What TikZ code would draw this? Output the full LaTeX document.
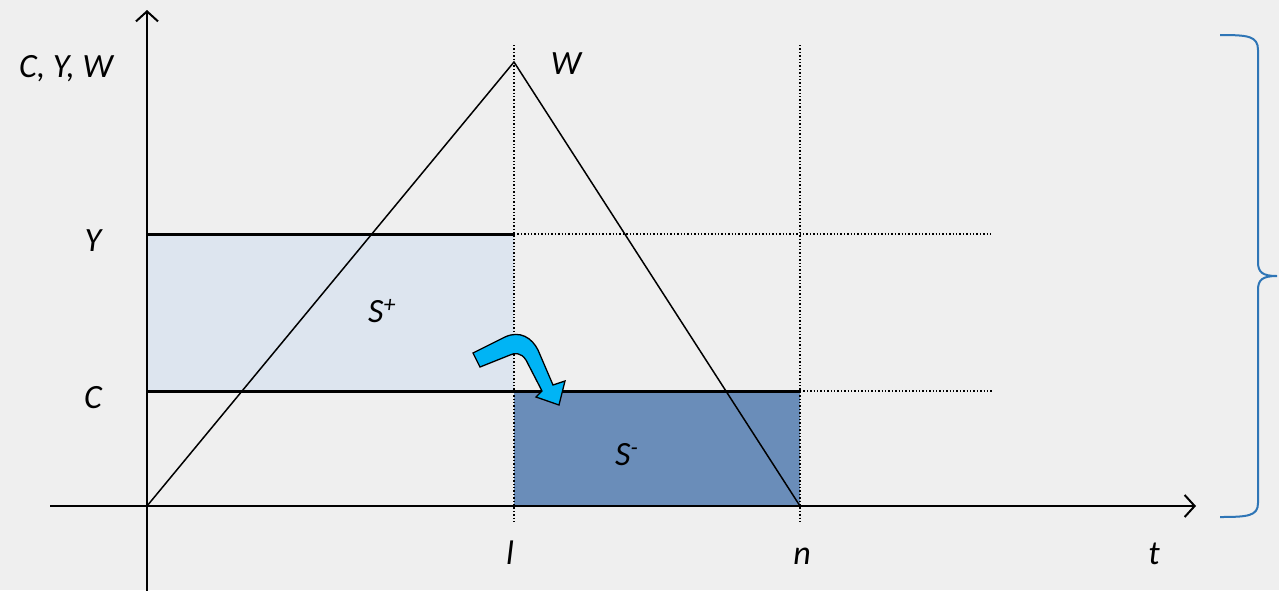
\documentclass[tikz,border=0pt]{standalone}
\usepackage{fontspec}
\setmainfont{Carlito}
\usetikzlibrary{arrows.meta}
\definecolor{colBack}{RGB}{239,239,239}
\definecolor{colSurplus}{RGB}{221,229,239}
\definecolor{colDeficit}{RGB}{106,141,185}
\definecolor{colShift}{RGB}{0,180,245}
\definecolor{colBrace}{RGB}{46,117,182}

\begin{document}
\begin{tikzpicture}[x=1pt, y=-1pt,
    every node/.style={font=\fontsize{34}{40}\selectfont\itshape, inner sep=0pt},
    axis/.style={line width=2pt, -{Straight Barb[length=10pt,width=22pt,line width=2pt]}},
    guide/.style={line width=1.4pt, dotted},
    level/.style={line width=3pt}]
    \useasboundingbox (0,0) rectangle (1279,590);
    \fill[colBack] (0,0) rectangle (1279,590);

    % key points
    \coordinate (O) at (147,506);
    \coordinate (peak) at (514,62);
    \coordinate (end) at (800,506);
    \coordinate (Yl) at (147,234);
    \coordinate (Yr) at (514,234);
    \coordinate (Cl) at (147,391);
    \coordinate (Cr) at (800,391);

    % areas
    \fill[colSurplus] (Yl) rectangle (514,391);
    \fill[colDeficit] (514,391) rectangle (end);

    % guides
    \draw[guide] (514,45) -- (514,522);
    \draw[guide] (800,45) -- (800,522);
    \draw[guide] (Yr) -- (992,234);
    \draw[guide] (Cr) -- (992,391);

    % levels
    \draw[level] (Yl) -- (Yr);
    \draw[level] (Cl) -- (Cr);

    % wealth
    \draw[line width=1.5pt] (O) -- (peak) -- (end);

    % axes
    \draw[axis] (147,592) -- (147,10);
    \draw[axis] (50,506) -- (1196,506);

    % transfer
    \draw[line width=1.3pt, fill=colShift] (473,353) -- (505,337)
        .. controls (520,330) and (532,338) .. (538,350) -- (553,385)
        -- (565,381) -- (559,405) -- (536,397) -- (542,391) -- (526,360)
        .. controls (521,352) and (514,353) .. (510,355) -- (480,367) -- cycle;

    % brace
    \draw[colBrace, line width=2pt] (1220,35)
        .. controls (1248,35) and (1258,36) .. (1258,50) -- (1258,262)
        .. controls (1258,272) and (1262,276) .. (1277,276)
        .. controls (1262,276) and (1258,280) .. (1258,290) -- (1258,503)
        .. controls (1258,516) and (1248,517) .. (1220,517);

    % labels
    \node[anchor=base] (lAxis) at (66,77) {C, Y, W};
    \node[anchor=base] (lW) at (566,74) {W};
    \node[anchor=base] (lY) at (93,251) {Y};
    \node[anchor=base] (lC) at (93,408) {C};
    \node[anchor=base west] (lSp) at (368,322) {S\textsuperscript{+}};
    \node[anchor=base west] (lSm) at (615,465) {S\textsuperscript{-}};
    \node[anchor=base] (ll) at (510,564) {l};
    \node[anchor=base] (ln) at (802,564) {n};
    \node[anchor=base] (lt) at (1154,564) {t};
\end{tikzpicture}
\end{document}
